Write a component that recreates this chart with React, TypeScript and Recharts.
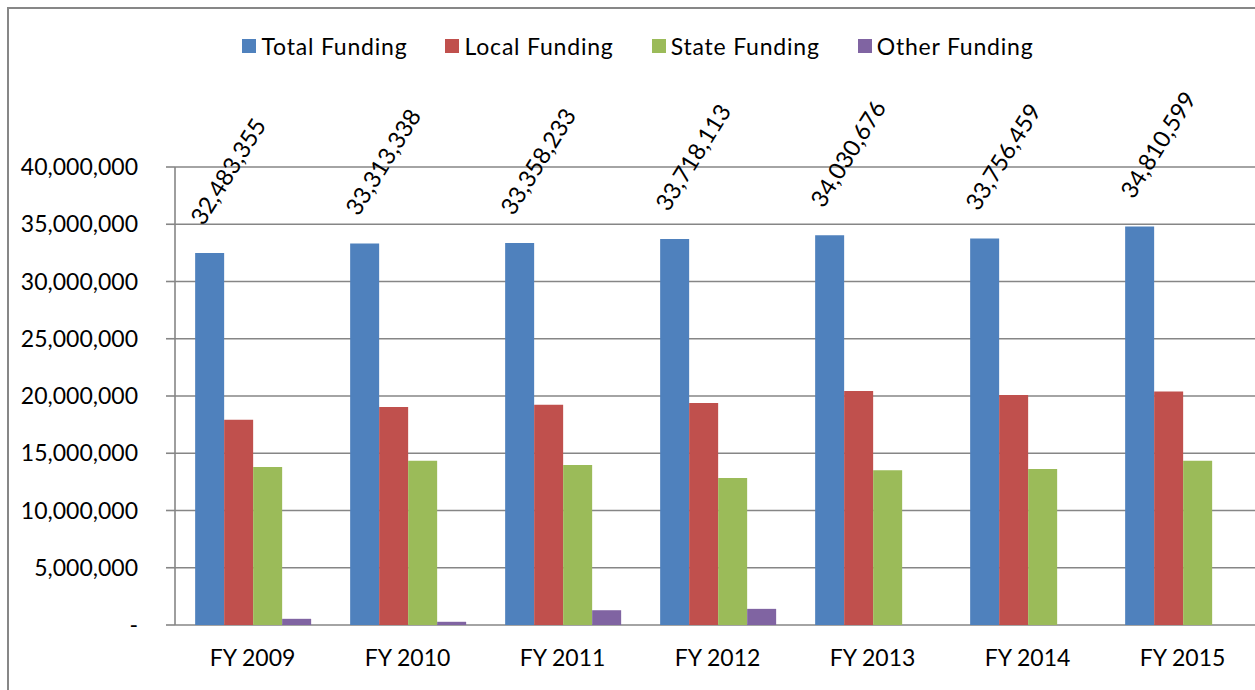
import React from "react";
import {
  BarChart,
  Bar,
  XAxis,
  YAxis,
  CartesianGrid,
  Legend,
  LabelList,
} from "recharts";

const years = ["FY 2009", "FY 2010", "FY 2011", "FY 2012", "FY 2013", "FY 2014", "FY 2015"];
const totalFunding = [32483355, 33313338, 33358233, 33718113, 34030676, 33756459, 34810599];
const localFunding = [17930000, 19040000, 19240000, 19390000, 20440000, 20090000, 20400000];
const stateFunding = [13800000, 14350000, 13980000, 12840000, 13510000, 13630000, 14350000];
const otherFunding = [540000, 280000, 1290000, 1410000, 0, 0, 0];
const yTicks = [0, 5000000, 10000000, 15000000, 20000000, 25000000, 30000000, 35000000, 40000000];
const edgeTicks = [0, 1, 2, 3, 4, 5, 6, 7];

const series = [
  { key: "total", name: "Total Funding", color: "#4F81BD" },
  { key: "local", name: "Local Funding", color: "#C0504D" },
  { key: "state", name: "State Funding", color: "#9BBB59" },
  { key: "other", name: "Other Funding", color: "#8064A2" },
];

const data = years.map((year, i) => ({
  year,
  total: totalFunding[i],
  local: localFunding[i],
  state: stateFunding[i],
  other: otherFunding[i],
}));

const FONT = "Lato, 'Open Sans', sans-serif";
const GRID = "#868686";

const fmt = (v: number) => (v === 0 ? "-" : v.toLocaleString("en-US"));

// rotated value label above each total bar
function TotalLabel(props: any) {
  const { x, y, width, value } = props;
  const cx = x + width / 2 + 18;
  const cy = y - 82;
  return (
    <text
      x={cx}
      y={cy}
      transform={`rotate(-58, ${cx}, ${cy})`}
      textAnchor="middle"
      dominantBaseline="central"
      fontSize={23.5}
      fontFamily={FONT}
      fill="#000"
    >
      {fmt(value)}
    </text>
  );
}

function LegendContent() {
  return (
    <div
      style={{
        height: 30,
        width: 1276,
        display: "flex",
        justifyContent: "center",
        alignItems: "center",
        fontFamily: FONT,
        fontSize: 23,
        letterSpacing: 0.8,
        color: "#000",
      }}
    >
      {series.map((s, i) => (
        <div
          key={s.key}
          style={{
            display: "flex",
            alignItems: "center",
            marginRight: i < series.length - 1 ? 38 : 0,
          }}
        >
          <span
            style={{
              width: 14,
              height: 14,
              background: s.color,
              display: "inline-block",
              marginRight: 5,
            }}
          />
          <span>{s.name}</span>
        </div>
      ))}
    </div>
  );
}

export default function App() {
  return (
    <div
      style={{
        position: "absolute",
        left: 0,
        top: 0,
        width: 1255,
        height: 690,
        overflow: "hidden",
        background: "#fff",
      }}
    >
      <div
        style={{
          position: "absolute",
          left: 7,
          top: 7,
          width: 1320,
          height: 740,
          border: "2px solid #878787",
        }}
      />
      <div style={{ position: "absolute", left: 0, top: 0 }}>
        <BarChart
          width={1280}
          height={700}
          data={data}
          margin={{ top: 137, right: 20, left: 0, bottom: 0 }}
          barCategoryGap="13%"
          barGap={0}
        >
          <CartesianGrid vertical={false} stroke={GRID} strokeWidth={1.6} />
          <XAxis
            xAxisId="edge"
            type="number"
            domain={[0, 7]}
            ticks={edgeTicks}
            allowDataOverflow
            tick={false}
            tickSize={9}
            height={0}
            axisLine={{ stroke: GRID, strokeWidth: 1.6 }}
            tickLine={{ stroke: GRID, strokeWidth: 1.6 }}
          />
          <XAxis
            dataKey="year"
            height={75}
            axisLine={false}
            tickLine={false}
            tickSize={0}
            tickMargin={25}
            tick={{ fill: "#000", fontSize: 23, fontFamily: FONT }}
          />
          <YAxis
            width={175}
            domain={[0, 40000000]}
            ticks={yTicks}
            tickFormatter={fmt}
            tickSize={9}
            tickMargin={28}
            axisLine={{ stroke: GRID, strokeWidth: 1.6 }}
            tickLine={{ stroke: GRID, strokeWidth: 1.6 }}
            tick={{ fill: "#000", fontSize: 23, fontFamily: FONT }}
          />
          <Legend
            verticalAlign="top"
            align="left"
            content={() => <LegendContent />}
            wrapperStyle={{ top: 31, left: 0 }}
          />
          {series.map((s) => (
            <Bar
              key={s.key}
              dataKey={s.key}
              name={s.name}
              fill={s.color}
              isAnimationActive={false}
            >
              {s.key === "total" && (
                <LabelList dataKey="total" content={<TotalLabel />} />
              )}
            </Bar>
          ))}
        </BarChart>
      </div>
    </div>
  );
}
